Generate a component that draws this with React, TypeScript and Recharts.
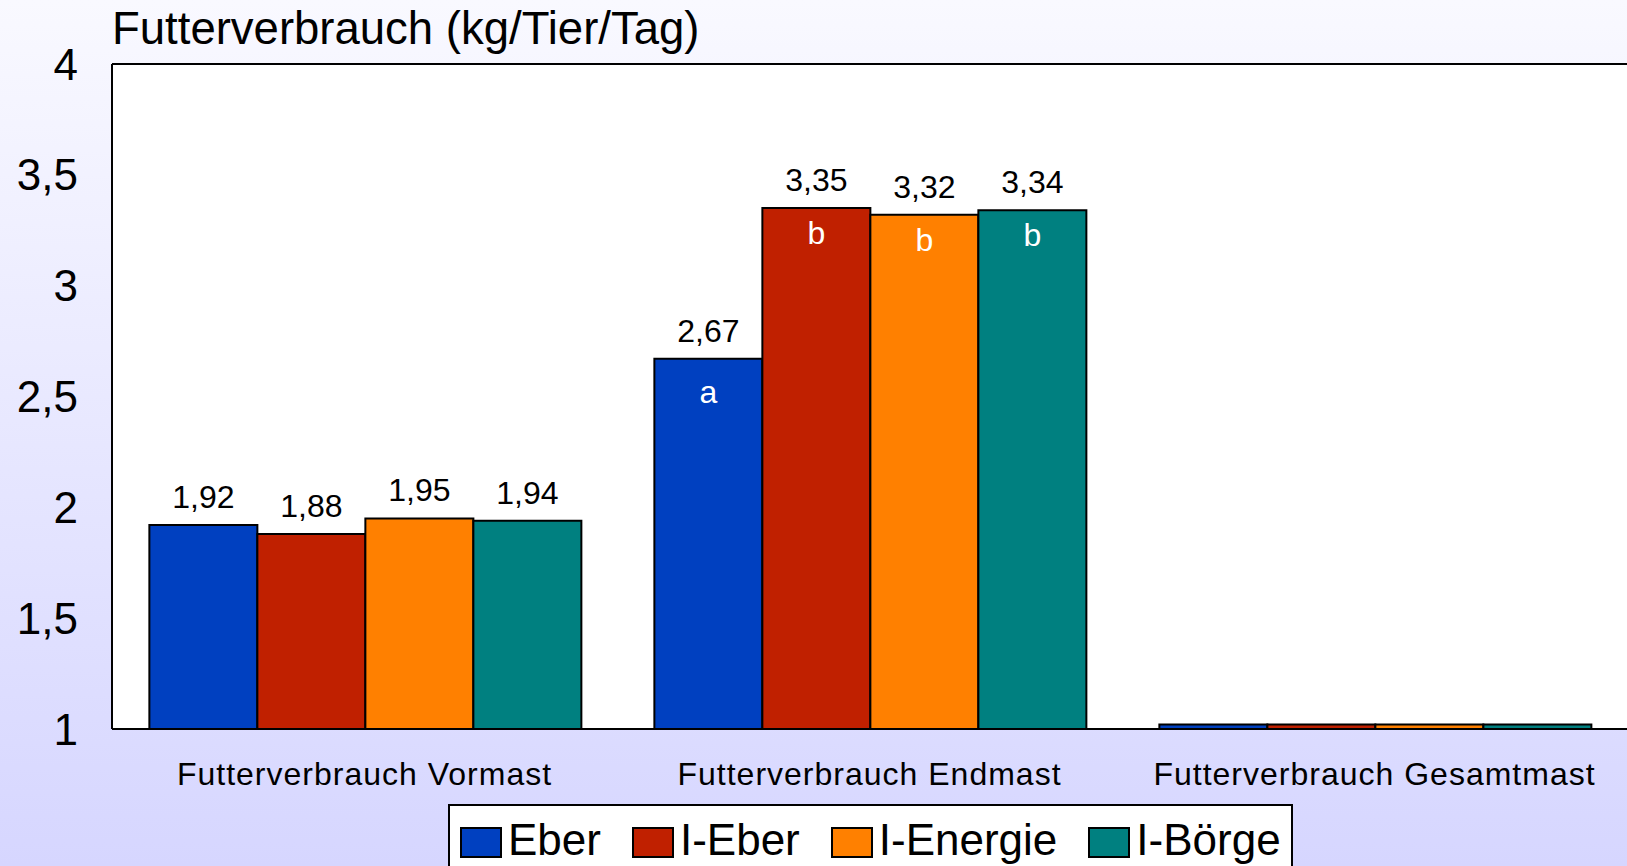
import { Bar, BarChart, CartesianGrid, LabelList, ReferenceLine, XAxis, YAxis } from "recharts";

const categories = ["Futterverbrauch Vormast", "Futterverbrauch Endmast", "Futterverbrauch Gesamtmast"];
const eber = [1.92, 2.67, 1.02];
const iEber = [1.88, 3.35, 1.02];
const iEnergie = [1.95, 3.32, 1.02];
const iBoerge = [1.94, 3.34, 1.02];
const showValue = [true, true, false];

const eberLetters = ["", "a", ""];
const iEberLetters = ["", "b", ""];
const iEnergieLetters = ["", "b", ""];
const iBoergeLetters = ["", "b", ""];

const yTicks = [1, 1.5, 2, 2.5, 3, 3.5, 4];

const FONT = "'Liberation Sans', Arial, sans-serif";

const series = [
  { key: "eber", name: "Eber", color: "#0040C0", values: eber, letters: eberLetters },
  { key: "iEber", name: "I-Eber", color: "#C02000", values: iEber, letters: iEberLetters },
  { key: "iEnergie", name: "I-Energie", color: "#FF8000", values: iEnergie, letters: iEnergieLetters },
  { key: "iBoerge", name: "I-Börge", color: "#008080", values: iBoerge, letters: iBoergeLetters },
];

const data = categories.map((cat, i) => {
  const row: Record<string, string | number | boolean> = { cat, show: showValue[i] };
  series.forEach((s) => {
    row[s.key] = s.values[i];
  });
  return row;
});

const fmt = (v: number) => String(v).replace(".", ",");

// value above the bar, significance letter inside it
const makeLabel = (letters: string[]) => (props: any) => {
  const { x, y, width, value, index } = props;
  if (!showValue[index]) return null;
  const cx = x + width / 2;
  const letter = letters[index];
  return (
    <g>
      <text x={cx} y={y - 17} textAnchor="middle" fontSize={32} fontFamily={FONT} fill="#000">
        {fmt(value)}
      </text>
      {letter ? (
        <text x={cx} y={y + (letter === "a" ? 44 : 36)} textAnchor="middle" fontSize={32} fontFamily={FONT} fill="#fff">
          {letter}
        </text>
      ) : null}
    </g>
  );
};

const App = () => {
  return (
    <div
      style={{
        position: "absolute",
        left: 0,
        top: 0,
        width: 1627,
        height: 866,
        overflow: "hidden",
        background: "linear-gradient(to bottom, #F9F9FF 0%, #D6D6FF 100%)",
        fontFamily: FONT,
      }}
    >
      <div
        style={{
          position: "absolute",
          left: 112,
          top: 6,
          fontSize: 45.5,
          lineHeight: "46px",
          color: "#000",
          whiteSpace: "nowrap",
        }}
      >
        Futterverbrauch (kg/Tier/Tag)
      </div>
      <BarChart
        width={1627}
        height={866}
        data={data}
        margin={{ top: 64, right: 0, left: 0, bottom: 0 }}
        barCategoryGap="7.4%"
        barGap={0}
      >
        <CartesianGrid fill="#fff" horizontal={false} vertical={false} />
        <XAxis
          dataKey="cat"
          height={137}
          tickLine={false}
          tickSize={0}
          tickMargin={33}
          axisLine={{ stroke: "#000", strokeWidth: 2 }}
          tick={{ fill: "#000", fontSize: 32, fontFamily: FONT, letterSpacing: 1 }}
          interval={0}
        />
        <YAxis
          width={112}
          domain={[1, 4]}
          ticks={yTicks}
          tickFormatter={fmt}
          tickLine={false}
          tickSize={0}
          tickMargin={34}
          axisLine={{ stroke: "#000", strokeWidth: 2 }}
          tick={{ fill: "#000", fontSize: 44, fontFamily: FONT }}
          allowDataOverflow
        />
        <ReferenceLine y={4} stroke="#000" strokeWidth={2} />
        {series.map((s) => (
          <Bar
            key={s.key}
            dataKey={s.key}
            name={s.name}
            fill={s.color}
            stroke="#000"
            strokeWidth={2}
            isAnimationActive={false}
          >
            <LabelList dataKey={s.key} content={makeLabel(s.letters)} />
          </Bar>
        ))}
      </BarChart>
      <div
        style={{
          position: "absolute",
          left: 448,
          top: 804,
          width: 845,
          height: 90,
          background: "#fff",
          border: "2px solid #000",
          boxSizing: "border-box",
          display: "flex",
          alignItems: "flex-start",
          paddingLeft: 10,
          paddingTop: 19,
          whiteSpace: "nowrap",
        }}
      >
        {series.map((s) => (
          <div key={s.key} style={{ display: "flex", alignItems: "flex-start", marginRight: 31, flexShrink: 0 }}>
            <div
              style={{
                width: 42,
                height: 31,
                background: s.color,
                border: "2px solid #000",
                boxSizing: "border-box",
                marginTop: 2,
                flexShrink: 0,
              }}
            />
            <span
              style={{
                fontSize: 44,
                lineHeight: "44px",
                marginLeft: 6,
                marginTop: -7,
                color: "#000",
                whiteSpace: "nowrap",
              }}
            >
              {s.name}
            </span>
          </div>
        ))}
      </div>
    </div>
  );
};

export default App;
